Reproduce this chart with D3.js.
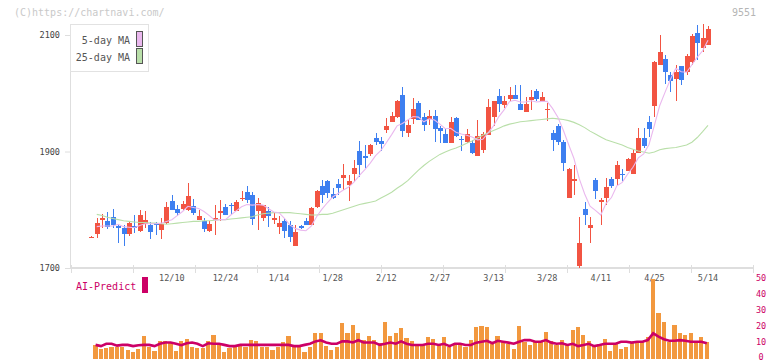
<!DOCTYPE html>
<html>
<head>
<meta charset="utf-8">
<script src="https://cdn.jsdelivr.net/npm/d3@7"></script>
<style>
  body { margin: 0; background: #fff; }
  svg { display: block; font-family: "DejaVu Sans Mono", monospace; }
</style>
</head>
<body>
<div id="chart"></div>
<script>
// ── Data ────────────────────────────────────────────────────────────────
const dates = [
  "11/19","11/20","11/21","11/22","11/25","11/26","11/27","11/28","11/29","12/2",
  "12/3","12/4","12/5","12/6","12/9","12/10","12/11","12/12","12/13","12/16",
  "12/17","12/18","12/19","12/20","12/23","12/24","12/25","12/26","12/27","12/30",
  "1/6","1/7","1/8","1/9","1/10","1/14","1/15","1/16","1/17","1/20",
  "1/21","1/22","1/23","1/24","1/27","1/28","1/29","1/30","1/31","2/3",
  "2/4","2/5","2/6","2/7","2/10","2/12","2/13","2/14","2/17","2/18",
  "2/19","2/20","2/21","2/25","2/26","2/27","2/28","3/3","3/4","3/5",
  "3/6","3/7","3/10","3/11","3/12","3/13","3/14","3/17","3/18","3/19",
  "3/21","3/24","3/25","3/26","3/27","3/28","3/31","4/1","4/2","4/3",
  "4/4","4/7","4/8","4/9","4/10","4/11","4/14","4/15","4/16","4/17",
  "4/18","4/21","4/22","4/23","4/24","4/25","4/28","4/30","5/1","5/2",
  "5/7","5/8","5/9","5/12","5/13","5/14"
];

const opens = [
  1752,1758,1783,1781,1788,1772,1769,1758,1772,1764,
  1776,1773,1777,1765,1777,1815,1801,1801,1800,1806,
  1783,1780,1764,1783,1794,1805,1809,1798,1818,1831,
  1825,1797,1786,1797,1784,1771,1780,1774,1738,1772,
  1780,1774,1804,1841,1849,1827,1844,1855,1843,1861,
  1901,1893,1896,1924,1918,1937,1951,1960,1997,1931,
  1955,1984,1959,1955,1961,1941,1930,1915,1958,1921,
  1917,1915,1892,1903,1928,1960,1996,1980,1990,1997,
  1982,1968,1988,2004,1986,1972,1932,1944,1917,1821,
  1851,1704,1801,1769,1851,1815,1821,1853,1853,1862,
  1867,1861,1897,1924,1950,1978,2049,2059,2031,2025,
  2047,2036,2054,2103,2078,2083
];
const highs = [
  1755,1785,1792,1796,1801,1776,1774,1781,1791,1800,
  1798,1779,1779,1786,1813,1826,1808,1815,1846,1819,
  1800,1786,1781,1808,1816,1810,1812,1817,1832,1841,
  1830,1820,1808,1805,1794,1789,1786,1781,1773,1774,
  1786,1805,1834,1851,1851,1837,1853,1879,1860,1885,
  1918,1911,1913,1932,1925,1957,1968,1988,2011,1956,
  1992,1986,1966,1972,1971,1943,1938,1959,1960,1927,
  1938,1920,1954,1934,1990,1987,2007,1996,2010,2014,
  2014,1993,2006,2007,2003,1984,1937,1947,1920,1872,
  1877,1788,1814,1787,1855,1821,1855,1857,1883,1870,
  1888,1903,1941,1941,1961,2055,2100,2066,2037,2049,
  2047,2067,2101,2117,2119,2116
];
const lows = [
  1751,1752,1769,1767,1769,1743,1738,1755,1760,1762,
  1769,1750,1757,1749,1776,1799,1789,1797,1798,1791,
  1782,1761,1761,1757,1780,1791,1791,1797,1815,1812,
  1774,1765,1780,1771,1775,1758,1751,1744,1738,1767,
  1773,1773,1803,1812,1820,1819,1825,1834,1815,1848,
  1857,1871,1893,1911,1901,1931,1950,1957,1925,1925,
  1948,1954,1936,1945,1917,1914,1915,1914,1925,1901,
  1914,1896,1892,1898,1928,1943,1968,1975,1987,1990,
  1971,1967,1972,1986,1985,1953,1901,1911,1867,1820,
  1825,1700,1774,1743,1819,1774,1808,1838,1843,1849,
  1866,1861,1897,1906,1925,1960,2049,2016,2003,1986,
  2014,2031,2049,2057,2071,2082
];
const closes = [
  1753,1777,1786,1770,1774,1769,1758,1777,1769,1791,
  1783,1762,1773,1776,1805,1800,1794,1810,1823,1794,
  1790,1767,1776,1785,1797,1791,1806,1813,1820,1817,
  1784,1812,1808,1790,1785,1778,1764,1754,1761,1769,
  1774,1803,1832,1825,1828,1820,1837,1860,1849,1872,
  1877,1889,1912,1917,1913,1943,1961,1987,1936,1945,
  1973,1954,1945,1961,1939,1936,1915,1950,1927,1920,
  1930,1898,1927,1930,1977,1986,1981,1987,1997,1990,
  1971,1982,1993,1990,1993,1973,1920,1917,1881,1870,
  1852,1743,1791,1774,1833,1816,1839,1841,1876,1861,
  1887,1898,1924,1910,1939,2053,2070,2037,2021,2036,
  2023,2064,2099,2087,2094,2110
];

const ma5 = [
  null,1771,1772,1772,1772,1775,1771,1770,1769,1773,
  1776,1776,1776,1777,1780,1783,1790,1797,1806,1804,
  1802,1797,1790,1782,1783,1783,1791,1798,1805,1809,
  1808,1809,1808,1802,1796,1795,1785,1774,1768,1765,
  1764,1772,1788,1801,1812,1822,1828,1834,1839,1848,
  1859,1869,1880,1893,1902,1915,1929,1944,1948,1954,
  1960,1959,1951,1956,1954,1947,1939,1940,1933,1930,
  1928,1925,1920,1921,1932,1944,1960,1972,1986,1988,
  1985,1985,1987,1985,1986,1986,1974,1959,1937,1912,
  1888,1853,1827,1806,1799,1791,1811,1821,1841,1847,
  1861,1873,1889,1896,1912,1945,1979,2002,2024,2043,
  2037,2036,2049,2062,2073,2091
];
const ma25 = [
  null,1792,1790,1787,1785,1783,1781,1780,1779,1778,
  1778,1777,1777,1776,1775,1776,1777,1778,1779,1780,
  1780,1781,1781,1782,1783,1783,1784,1785,1786,1787,
  1788,1791,1793,1794,1795,1795,1795,1795,1794,1793,
  1792,1791,1791,1792,1792,1794,1797,1800,1803,1806,
  1809,1811,1813,1815,1820,1825,1830,1837,1843,1850,
  1859,1868,1876,1883,1889,1895,1899,1903,1906,1910,
  1914,1918,1923,1928,1932,1936,1940,1944,1947,1949,
  1951,1952,1953,1954,1955,1956,1957,1956,1955,1953,
  1950,1946,1941,1935,1930,1925,1920,1917,1914,1911,
  1907,1904,1901,1899,1897,1899,1903,1905,1906,1907,
  1909,1911,1916,1924,1934,1945
];

const volume = [
  null,7.9,5.4,6.2,6.8,6.8,6.8,4.7,3.7,5.4,
  13.6,6.8,4.2,10.4,10.4,10,4.4,10.4,11.7,6.8,
  6.3,6.3,10.4,14.2,8.4,3.7,6.2,6.8,7.2,6.4,
  11,10.4,6.8,6.4,4.7,6.8,10,13.6,6.4,6.8,
  3.7,6.8,15.7,15.2,7.2,4.7,6.8,22,15.2,20.6,
  15.2,11,13.6,11,9.3,22.7,13.6,15.2,18.5,12.2,
  10.4,8.4,8.4,12.8,11.7,7.9,12.8,6.8,8.4,7.9,
  6.4,11,19.1,19.9,19.1,8.4,13.6,10.7,8.4,5.4,
  19.9,10,7.9,10,10,16.3,10.4,7.9,11,7.9,
  17.4,19.5,14.2,10.4,7.9,7.9,11.7,4.2,8.4,5.4,
  6.8,10,10,10,13.1,49.5,28,22.7,10,20.6,
  15.7,14.2,15.7,10.7,13.1,10
];
const aiPredict = [
  null,8,7.2,8.7,8.7,7.5,8,8,7.2,7.8,
  8,8,7.2,8.7,9.5,9.5,8.7,7.8,9,9.5,
  8.7,7.2,9,8.7,8.7,8,7.2,7.2,8,8,
  8,8,8,8,8,8,8,8,7.2,7.2,
  8,8.7,10.2,10.9,9.5,8.7,8.7,10.2,10.2,9.5,
  10.9,9.5,9.5,9.5,8,8.7,9.5,8.7,10.2,8.7,
  7.9,7.9,7.9,8.7,8.7,7.9,8.7,7.2,8.7,8.7,
  7.9,7.9,9.4,10,10.6,9,10.6,10,9.4,8.7,
  10,11,11,10,10,11,9.4,8.7,9,7.9,
  8.7,7.2,7.9,8.7,7.2,7.9,8.7,8.7,8.7,10,
  10,9.4,10,10,11,15.3,13.2,11.6,10.6,10.6,
  11,10.6,10,10,10,9
];

const priceTicks = [1700, 1900, 2100];
const volumeTicks = [0, 10, 20, 30, 40, 50];
const labelDates = ["12/10","12/24","1/14","1/28","2/12","2/27","3/13","3/28","4/11","4/25","5/14"];

// ── Colours ─────────────────────────────────────────────────────────────
const UP = "#f25442";
const DOWN = "#3d7ff0";
const MA5_COLOR = "#eab8ee";
const MA25_COLOR = "#b9dfa9";
const VOL_COLOR = "#f2983e";
const AI_COLOR = "#cc0066";
const AXIS = "#dedede";

const W = 772, H = 361;

const svg = d3.select("#chart").append("svg")
  .attr("width", W)
  .attr("height", H);

// ── Scales ──────────────────────────────────────────────────────────────
const step = 5.357;
const x = d3.scaleBand()
  .domain(dates)
  .range([89, 89 + step * dates.length])
  .paddingInner(0.1);
const cx = d => x(d) + x.bandwidth() / 2;

const y = d3.scaleLinear().domain([1700, 2100]).range([268, 35]);
const yVol = d3.scaleLinear().domain([0, 50]).range([357.5, 278.5]);

// frame divisions of the bottom axis (11 equal parts)
const frame = d3.scaleLinear().domain([0, 11]).range([71, 753]);

// ── Text on top ─────────────────────────────────────────────────────────
svg.append("text")
  .attr("x", 14).attr("y", 16)
  .style("font-size", "10px")
  .style("fill", "#c9c9c9")
  .text("(C)https://chartnavi.com/");

svg.append("text")
  .attr("x", 756).attr("y", 16)
  .attr("text-anchor", "end")
  .style("font-size", "10px")
  .style("fill", "#b5b5b5")
  .text("9551");

// ── Axes ────────────────────────────────────────────────────────────────
svg.append("line")
  .attr("x1", 70.5).attr("x2", 70.5)
  .attr("y1", 24).attr("y2", 268)
  .style("stroke", AXIS);

svg.append("line")
  .attr("x1", 70).attr("x2", 753)
  .attr("y1", 268).attr("y2", 268)
  .style("stroke", AXIS).style("stroke-width", 2);

svg.append("g").selectAll("line")
  .data(d3.range(12))
  .join("line")
  .attr("x1", d => Math.round(frame(d)) + 0.5)
  .attr("x2", d => Math.round(frame(d)) + 0.5)
  .attr("y1", 265).attr("y2", 273)
  .style("stroke", AXIS);

const yAxisG = svg.append("g")
  .attr("transform", "translate(70,0)")
  .call(d3.axisLeft(y).tickValues(priceTicks).tickSize(5).tickPadding(5).tickFormat(d3.format("d")));
yAxisG.select(".domain").remove();
yAxisG.selectAll("line").style("stroke", AXIS);
yAxisG.selectAll("text")
  .style("font-size", "8.5px")
  .style("font-family", "DejaVu Sans Mono, monospace")
  .style("fill", "#444");

const xAxisG = svg.append("g")
  .attr("transform", "translate(0,276)")
  .call(d3.axisBottom(x).tickValues(labelDates).tickSize(0).tickPadding(0));
xAxisG.select(".domain").remove();
xAxisG.selectAll("text")
  .attr("dy", "0.6em")
  .style("font-size", "8.5px")
  .style("font-family", "DejaVu Sans Mono, monospace")
  .style("fill", "#555");

// ── Candles ─────────────────────────────────────────────────────────────
const candles = dates.map((d, i) => ({
  date: d, o: opens[i], h: highs[i], l: lows[i], c: closes[i]
}));

const candleG = svg.append("g").attr("shape-rendering", "crispEdges");

candleG.selectAll("line")
  .data(candles)
  .join("line")
  .attr("x1", d => Math.round(cx(d.date)) + 0.5)
  .attr("x2", d => Math.round(cx(d.date)) + 0.5)
  .attr("y1", d => y(d.h))
  .attr("y2", d => y(d.l))
  .style("stroke", d => d.c >= d.o ? UP : DOWN)
  .style("stroke-width", 1);

candleG.selectAll("rect")
  .data(candles)
  .join("rect")
  .attr("x", d => Math.round(cx(d.date)) - 2)
  .attr("width", 5)
  .attr("y", d => y(Math.max(d.o, d.c)))
  .attr("height", d => Math.max(1.2, Math.abs(y(d.o) - y(d.c))))
  .style("fill", d => d.c >= d.o ? UP : DOWN);

// ── Moving averages ─────────────────────────────────────────────────────
const maLine = d3.line()
  .defined(d => d.v != null)
  .x(d => cx(d.date))
  .y(d => y(d.v));

svg.append("path")
  .datum(dates.map((d, i) => ({ date: d, v: ma25[i] })))
  .attr("d", maLine)
  .style("fill", "none")
  .style("stroke", MA25_COLOR)
  .style("stroke-width", 1.1);

svg.append("path")
  .datum(dates.map((d, i) => ({ date: d, v: ma5[i] })))
  .attr("d", maLine)
  .style("fill", "none")
  .style("stroke", MA5_COLOR)
  .style("stroke-width", 1.1);

// ── Legend ──────────────────────────────────────────────────────────────
const legend = svg.append("g");
legend.append("rect")
  .attr("x", 70.5).attr("y", 24.5)
  .attr("width", 78).attr("height", 47)
  .style("fill", "#fff")
  .style("stroke", "#e2e2e2");

[["5-day MA", MA5_COLOR], ["25-day MA", MA25_COLOR]].forEach(([label, col], i) => {
  legend.append("text")
    .attr("x", 130).attr("y", 44 + i * 17)
    .attr("text-anchor", "end")
    .style("font-size", "10px")
    .style("fill", "#555")
    .text(label);
  legend.append("rect")
    .attr("x", 136.5).attr("y", 31.5 + i * 17)
    .attr("width", 6).attr("height", 15)
    .style("fill", col)
    .style("stroke", "#555");
});

// ── Volume / AI-Predict ─────────────────────────────────────────────────
const volG = svg.append("g").attr("shape-rendering", "crispEdges");
volG.selectAll("rect")
  .data(dates.map((d, i) => ({ date: d, v: volume[i] })).filter(d => d.v != null))
  .join("rect")
  .attr("x", d => cx(d.date) - 3.4)
  .attr("width", 4.2)
  .attr("y", d => yVol(d.v))
  .attr("height", d => yVol(0) + 1.5 - yVol(d.v))
  .style("fill", VOL_COLOR);

svg.append("path")
  .datum(dates.map((d, i) => ({ date: d, v: aiPredict[i] })))
  .attr("d", d3.line()
    .defined(d => d.v != null)
    .x(d => cx(d.date) - 1.2)
    .y(d => yVol(d.v)))
  .style("fill", "none")
  .style("stroke", AI_COLOR)
  .style("stroke-width", 2.6);

svg.append("g").selectAll("text")
  .data(volumeTicks)
  .join("text")
  .attr("x", 761)
  .attr("y", d => yVol(d))
  .attr("dy", "0.35em")
  .attr("text-anchor", "middle")
  .style("font-size", "8.5px")
  .style("fill", AI_COLOR)
  .text(d => d);

svg.append("text")
  .attr("x", 76).attr("y", 290)
  .style("font-size", "10px")
  .style("fill", AI_COLOR)
  .text("AI-Predict");

svg.append("rect")
  .attr("x", 142).attr("y", 277)
  .attr("width", 6).attr("height", 16)
  .style("fill", AI_COLOR);
</script>
</body>
</html>
